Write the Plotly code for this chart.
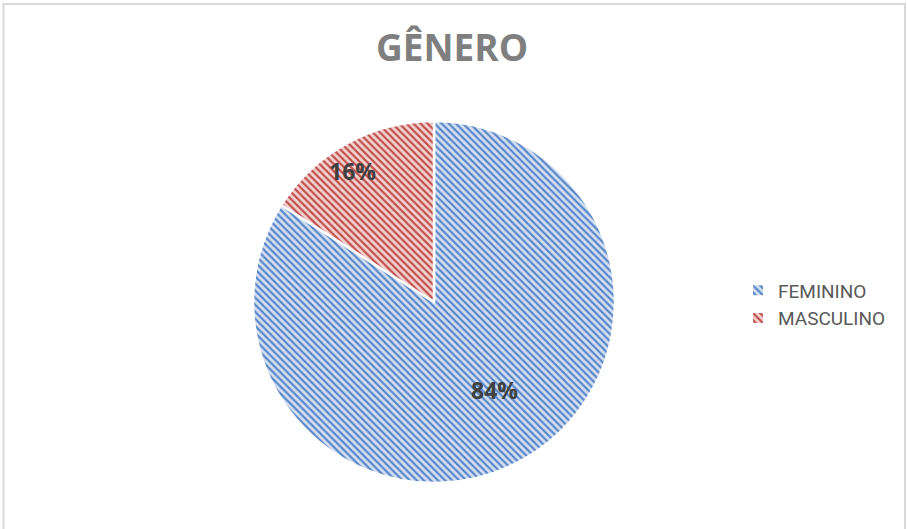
import math
import plotly.graph_objects as go

categories = ["FEMININO", "MASCULINO"]
values = [84, 16]
fg_colors = ["#5a87c8", "#c0504d"]
bg_colors = ["#d3e0f2", "#f3d3d2"]

W, H = 907, 529
cx, cy, r = 434, 302, 181

fig = go.Figure(go.Pie(
    labels=categories,
    values=values,
    sort=False,
    direction="clockwise",
    rotation=0,
    textinfo="none",
    marker=dict(
        colors=bg_colors,
        line=dict(color="white", width=2.5),
        pattern=dict(shape="\\", fgcolor=fg_colors, bgcolor=bg_colors,
                     size=5, solidity=0.45, fillmode="replace"),
    ),
    domain=dict(x=[(cx - r) / W, (cx + r) / W], y=[1 - (cy + r) / H, 1 - (cy - r) / H]),
    hoverinfo="label+percent",
))

# data labels placed from the slice angles (Excel-like best fit)
label_radius = [0.59, 0.85]
label_angle_shift = [-0.1, -0.054]
total = sum(values)
cum = 0
annotations = []
for v, rf, sh in zip(values, label_radius, label_angle_shift):
    mid = (cum + v / 2) / total * 2 * math.pi + sh
    cum += v
    x = cx + rf * r * math.sin(mid)
    y = cy - rf * r * math.cos(mid)
    annotations.append(dict(
        x=x / W, y=1 - y / H, xref="paper", yref="paper", showarrow=False,
        text=f"<b>{round(v / total * 100)}%</b>",
        font=dict(family="Open Sans", size=23, color="#404040"),
        xanchor="center", yanchor="middle"))

fig.update_layout(
    width=W, height=H,
    margin=dict(l=0, r=0, t=0, b=0),
    paper_bgcolor="white",
    title=dict(text="<b>GÊNERO</b>", x=452 / W, xanchor="center", y=1 - 48 / H, yanchor="middle",
               font=dict(family="Open Sans", size=37, color="#7f7f7f")),
    showlegend=True,
    legend=dict(x=738 / W, xanchor="left", y=1 - 304.5 / H, yanchor="middle",
                font=dict(family="Roboto", size=19, color="#595959"),
                itemwidth=30, itemsizing="constant"),
    annotations=annotations,
    shapes=[dict(type="rect", xref="paper", yref="paper",
                 x0=3.5 / W, x1=905 / W, y0=-0.02, y1=1 - 4 / H,
                 line=dict(color="#d9d9d9", width=2), fillcolor="rgba(0,0,0,0)")],
)

fig.write_html("out.html", config={"displayModeBar": False},
               post_script="document.body.style.margin='0';")
